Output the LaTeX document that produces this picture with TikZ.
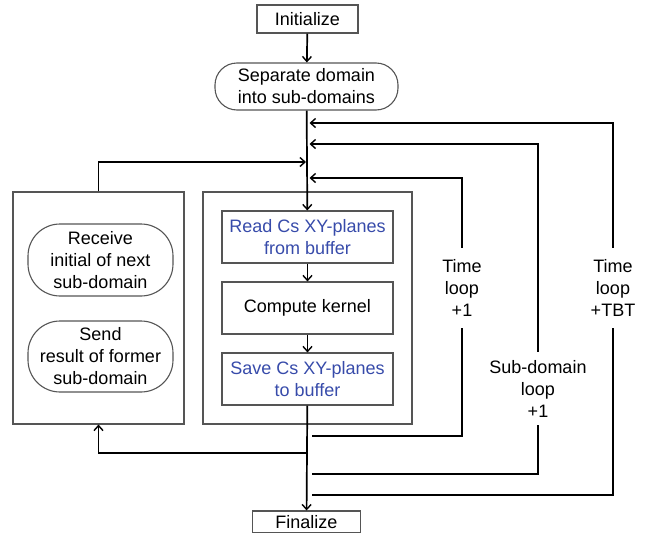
\documentclass[tikz,border=0pt]{standalone}
\usepackage{fontspec}
\setmainfont{Liberation Sans}
\usetikzlibrary{arrows.meta}
\definecolor{boxline}{RGB}{85,85,85}
\definecolor{bluetext}{RGB}{55,75,170}
\begin{document}
\begin{tikzpicture}[x=1pt,y=-1pt,
  font=\fontsize{18}{22}\selectfont,
  box/.style={draw=boxline,line width=1.1pt,inner sep=0pt,align=center},
  roundbox/.style={box,rounded corners=22pt},
  pill/.style={box,rounded corners=32pt},
  looplabel/.style={inner sep=0pt,align=center,minimum width=20pt},
  conn/.style={line width=1.7pt,black},
  arr/.style={conn,-{Straight Barb[length=5pt,width=9pt,line width=1.4pt]}}]
\useasboundingbox (0,0) rectangle (649,533);

% start / end
\node[box,minimum width=101pt,minimum height=28pt] (init) at (307.5,19) {Initialize};
\node[roundbox,minimum width=183pt,minimum height=47pt] (sep) at (306.5,86.5) {Separate domain\\into sub-domains};
\node[box,minimum width=108pt,minimum height=22pt] (fin) at (306.5,522) {Finalize};

% communication block
\node[box,minimum width=171pt,minimum height=232pt] (left) at (98.5,308) {};
\node[pill,minimum width=145pt,minimum height=72pt] (recv) at (100.5,260) {Receive\\initial of next\\sub-domain};
\node[pill,minimum width=145pt,minimum height=71pt] (send) at (100.5,356.5) {Send\\result of former\\sub-domain};

% computation block
\node[box,minimum width=209pt,minimum height=232pt] (right) at (307.5,308) {};
\node[box,minimum width=171pt,minimum height=52pt,text=bluetext] (read) at (307.5,237) {Read Cs XY-planes\\from buffer};
\node[box,minimum width=171pt,minimum height=52pt] (comp) at (307.5,308) {Compute kernel};
\node[box,minimum width=171pt,minimum height=52pt,text=bluetext] (save) at (307.5,379) {Save Cs XY-planes\\to buffer};

% loop labels
\node[looplabel,minimum height=80pt] (tl) at (462,288) {Time\\loop\\+1};
\node[looplabel,minimum height=73pt] (sl) at (538,388.5) {Sub-domain\\loop\\+1};
\node[looplabel,minimum height=80pt] (tb) at (613,288) {Time\\loop\\+TBT};

% points on the main line
\coordinate (inTB) at (309.5,123);
\coordinate (inSL) at (309.5,144);
\coordinate (inLB) at (306,162);
\coordinate (inTL) at (309.5,178);
\coordinate (outTL) at (312,436);
\coordinate (outLB) at (308,453);
\coordinate (outSL) at (312,474);
\coordinate (outTB) at (312,495);

% main flow
\draw[arr] (init) -- (sep);
\draw[arr] (sep) -- (read);
\draw[arr] (read) -- (comp);
\draw[arr] (comp) -- (save);
\draw[arr] (save) -- (fin);

% loops back to the main line
\draw[arr] (tb.north) |- (inTB);
\draw[arr] (sl.north) |- (inSL);
\draw[arr] (tl.north) |- (inTL);
\draw[arr] (left.north) |- (inLB);
\draw[conn] (tb.south) |- (outTB);
\draw[conn] (sl.south) |- (outSL);
\draw[conn] (tl.south) |- (outTL);
\draw[arr] (outLB) -| (left.south);
\end{tikzpicture}
\end{document}
